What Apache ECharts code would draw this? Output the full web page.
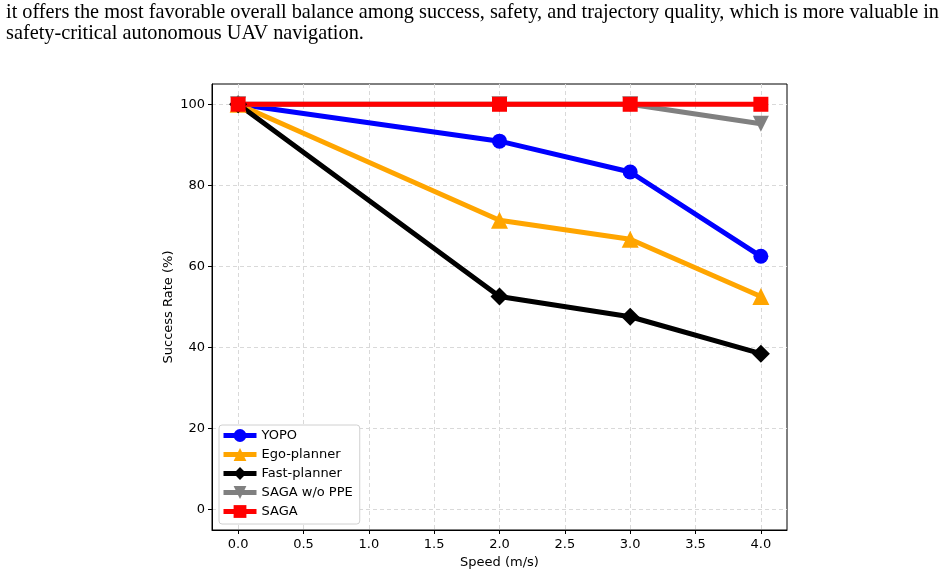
<!DOCTYPE html>
<html><head><meta charset="utf-8">
<script src="https://cdn.jsdelivr.net/npm/echarts@6/dist/echarts.min.js"></script>
<style>html,body{margin:0;padding:0;background:#fff;}#c{width:948px;height:576px;}</style>
</head><body><div id="c"></div>
<script>
const speeds = [0, 2, 3, 4];
const yopo = [100, 90.9, 83.3, 62.5];
const ego = [100, 71.4, 66.7, 52.6];
const fast = [100, 52.6, 47.6, 38.5];
const sagaNoPPE = [100, 100, 100, 95.2];
const saga = [100, 100, 100, 100];
const xTicks = [0, 0.5, 1, 1.5, 2, 2.5, 3, 3.5, 4];
const yTicks = [0, 20, 40, 60, 80, 100];
const paperText = [
  'it offers the most favorable overall balance among success, safety, and trajectory quality, which is more valuable in',
  'safety-critical autonomous UAV navigation.'
];

const chart = echarts.init(document.getElementById('c'));
const pair = v => speeds.map((s, i) => [s, v[i]]);
function mk(name, data, color, symbol, size) {
  return {
    name, type: 'line', data: pair(data), symbol, symbolSize: size,
    lineStyle: {color, width: 5}, itemStyle: {color}, showSymbol: true,
    animation: false, z: 2
  };
}
chart.setOption({
  animation: false,
  textStyle: {fontFamily: 'DejaVu Sans'},
  graphic: [
    {type: 'text', left: 6, top: 3, style: {text: paperText[0], font: '20.3px "Liberation Serif"', fill: '#000'}},
    {type: 'text', left: 6, top: 24, style: {text: paperText[1], font: '20.3px "Liberation Serif"', fill: '#000'}}
  ],
  grid: {left: 212, top: 84, width: 575, height: 446, show: true, borderColor: '#000', borderWidth: 1, backgroundColor: 'transparent'},
  xAxis: {
    type: 'value', min: -0.2, max: 4.2,
    name: 'Speed (m/s)', nameLocation: 'middle', nameGap: 25,
    nameTextStyle: {fontSize: 13, color: '#000'},
    axisLine: {show: true, onZero: false, lineStyle: {color: '#000'}},
    axisTick: {show: true, customValues: xTicks, length: 4, lineStyle: {color: '#000'}},
    axisLabel: {customValues: xTicks, fontSize: 13, color: '#000', margin: 8, formatter: v => v.toFixed(1)},
    splitLine: {show: true, lineStyle: {color: '#d9d9d9', type: [4, 3], width: 1}}
  },
  yAxis: {
    type: 'value', min: -5, max: 105,
    name: 'Success Rate (%)', nameLocation: 'middle', nameGap: 37, nameMoveOverlap: false,
    nameTextStyle: {fontSize: 13, color: '#000'},
    axisLine: {show: true, onZero: false, lineStyle: {color: '#000'}},
    axisTick: {show: true, customValues: yTicks, length: 4, lineStyle: {color: '#000'}},
    axisLabel: {customValues: yTicks, fontSize: 13, color: '#000', margin: 7},
    splitLine: {show: true, lineStyle: {color: '#d9d9d9', type: [4, 3], width: 1}}
  },
  legend: {
    orient: 'vertical', left: 219, top: 425, itemGap: 6, itemWidth: 33, itemHeight: 16,
    backgroundColor: '#fff', borderColor: '#d0d0d0', borderWidth: 1, borderRadius: 3,
    padding: [4, 7, 6, 2],
    textStyle: {fontSize: 13, color: '#000'},
    lineStyle: {width: 5},
    data: ['YOPO', 'Ego-planner', 'Fast-planner', 'SAGA w/o PPE', 'SAGA']
  },
  series: [
    mk('YOPO', yopo, '#0000ff', 'circle', 15),
    mk('Ego-planner', ego, '#ffa500', 'triangle', 17),
    mk('Fast-planner', fast, '#000000', 'diamond', 18),
    mk('SAGA w/o PPE', sagaNoPPE, '#808080', 'path://M0,0 L10,0 L5,9 Z', 16),
    mk('SAGA', saga, '#ff0000', 'rect', 15)
  ]
});
</script></body></html>
